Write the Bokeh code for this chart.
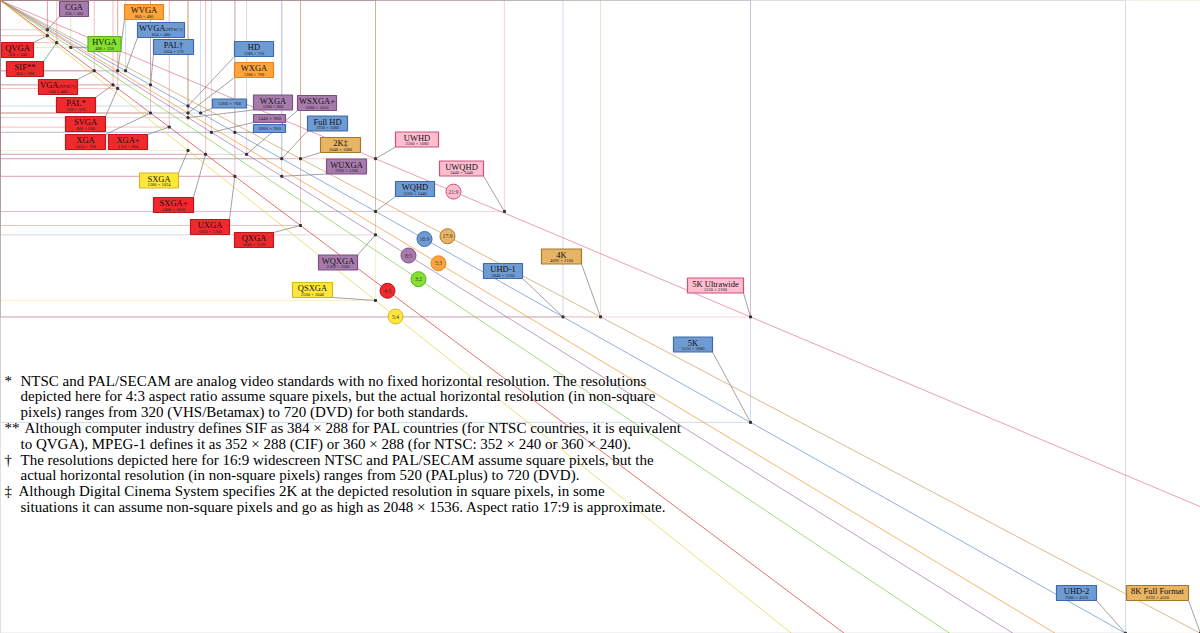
from bokeh.plotting import figure
from bokeh.models import Range1d
from bokeh.core.properties import value
from bokeh.embed import file_html
from bokeh.resources import INLINE

# ---------------- data ----------------
std_names = ["CGA", "QVGA", "SIF**", "HVGA", "WVGA", "WVGA", "VGA", "PAL*", "PAL\u2020",
             "SVGA", "XGA", "XGA+", "HD", "WXGA", "WXGA", "", "", "",
             "SXGA", "SXGA+", "WSXGA+", "UXGA", "Full HD", "2K\u2021", "WUXGA", "QXGA",
             "UWHD", "WQHD", "WQXGA", "QSXGA", "UWQHD", "UHD-1", "4K", "5K Ultrawide",
             "5K", "UHD-2", "8K Full Format"]
std_subs = ["", "", "", "", "", "(NTSC\u2020)", "(NTSC*)", "", "",
            "", "", "", "", "", "", "", "", "",
            "", "", "", "", "", "", "", "",
            "", "", "", "", "", "", "", "",
            "", "", ""]
std_w = [320, 320, 384, 480, 800, 854, 640, 768, 1024,
         800, 1024, 1152, 1280, 1280, 1280, 1366, 1440, 1600,
         1280, 1400, 1680, 1600, 1920, 2048, 1920, 2048,
         2560, 2560, 2560, 2560, 3440, 3840, 4096, 5120,
         5120, 7680, 8192]
std_h = [200, 240, 288, 320, 480, 480, 480, 576, 576,
         600, 768, 864, 720, 768, 800, 768, 900, 900,
         1024, 1050, 1050, 1200, 1080, 1080, 1200, 1536,
         1080, 1440, 1600, 2048, 1440, 2160, 2160, 2160,
         2880, 4320, 4320]
std_cat = ["purple", "red", "red", "green", "orange", "blue", "red", "red", "blue",
           "red", "red", "red", "blue", "orange", "purple", "blue", "purple", "blue",
           "yellow", "red", "purple", "red", "blue", "tan", "purple", "red",
           "pink", "blue", "purple", "yellow", "pink", "blue", "tan", "pink",
           "blue", "blue", "tan"]

ratio_labels = ["21:9", "17:9", "16:9", "5:3", "8:5", "3:2", "4:3", "5:4"]
ratio_w = [64, 256, 16, 5, 8, 3, 4, 5]
ratio_h = [27, 135, 9, 3, 5, 2, 3, 4]
ratio_cat = ["pink", "tan", "blue", "orange", "purple", "green", "red", "yellow"]

note_marks = ["*", "", "", "**", "", "\u2020", "", "\u2021", ""]
note_lines = [
    "NTSC and PAL/SECAM are analog video standards with no fixed horizontal resolution. The resolutions",
    "depicted here for 4:3 aspect ratio assume square pixels, but the actual horizontal resolution (in non-square",
    "pixels) ranges from 320 (VHS/Betamax) to 720 (DVD) for both standards.",
    "Although computer industry defines SIF as 384 \u00d7 288 for PAL countries (for NTSC countries, it is equivalent",
    "to QVGA), MPEG-1 defines it as 352 \u00d7 288 (CIF) or 360 \u00d7 288 (for NTSC: 352 \u00d7 240 or 360 \u00d7 240).",
    "The resolutions depicted here for 16:9 widescreen NTSC and PAL/SECAM assume square pixels, but the",
    "actual horizontal resolution (in non-square pixels) ranges from 520 (PALplus) to 720 (DVD).",
    "Although Digital Cinema System specifies 2K at the depicted resolution in square pixels, in some",
    "situations it can assume non-square pixels and go as high as 2048 \u00d7 1536. Aspect ratio 17:9 is approximate.",
]

# ---------------- styles / layout ----------------
FILL = {"red": "#ee2a2e", "purple": "#a77cac", "blue": "#6f9bd3", "orange": "#fba53c",
        "green": "#86e030", "yellow": "#fde73e", "tan": "#e8b466", "pink": "#ffbdd0"}
EDGE = {"red": "#c0161c", "purple": "#7a4f84", "blue": "#3d6aaa", "orange": "#e8821c",
        "green": "#5cb020", "yellow": "#d8b820", "tan": "#a8782a", "pink": "#d0507a"}
LINE = {"red": "#d83030", "purple": "#9c72a8", "blue": "#5b87c5", "orange": "#f0902a",
        "green": "#80c840", "yellow": "#e8d040", "tan": "#c89a5a", "pink": "#e0708f"}

# label box layout in screen pixels: (cx, cy, box w, box h)
LAYOUT = [(73.5, 8.5, 29, 15), (17, 49.5, 32, 15), (24.5, 68.5, 37, 15), (104, 43.5, 33, 15),
          (143.5, 11.5, 39, 15), (160.5, 29.5, 47, 15), (57.5, 86.5, 39, 15), (75.5, 104.5, 39, 15),
          (173, 46.5, 40, 15), (85, 123.5, 40, 15), (85, 141.5, 40, 15), (127.5, 141.5, 39, 15),
          (253.5, 48.5, 39, 15), (253.5, 69.5, 39, 15), (272.5, 102, 39, 15), (229, 103, 34, 9),
          (269, 118, 32, 8), (269, 128, 32, 8), (158.5, 180, 39, 15), (173, 204.5, 40, 15),
          (316.5, 102.5, 39, 15), (209.5, 226.5, 39, 15), (327, 123, 40, 15), (340, 144.5, 40, 15),
          (346, 166, 40, 15), (253.5, 239.5, 39, 15), (416.5, 139, 43, 15), (414.5, 188.5, 39, 15),
          (337.5, 262, 39, 15), (312, 289.5, 40, 15), (461, 168, 44, 15), (502.5, 270.5, 39, 15),
          (561, 256, 40, 15), (715, 285, 56, 15), (692.5, 344, 39, 15), (1076, 592.5, 40, 15),
          (1157, 592.5, 62, 15)]
SUB_DX = {5: 4.5, 6: 0.5}
RATIO_X_PX = [453, 447, 424, 438, 408, 418, 387, 395]

W_PX, H_PX = 1200, 633
S = W_PX / 8192.0
FONT = value("Liberation Serif")


def d(px):
    return px / S


p = figure(width=W_PX, height=H_PX, output_backend="svg", toolbar_location=None,
           x_axis_type=None, y_axis_type=None, min_border=0,
           x_range=Range1d(0, 8192), y_range=Range1d(d(H_PX), 0))
p.grid.visible = False
p.outline_line_color = None
p.background_fill_color = "white"

# resolution rectangles
for w, h, c in zip(std_w, std_h, std_cat):
    p.quad(left=0, right=w, top=0, bottom=h, fill_alpha=0, line_color=LINE[c],
           line_alpha=0.3, line_width=1)

# aspect-ratio lines
for rw, rh, c in zip(ratio_w, ratio_h, ratio_cat):
    X = 16384
    p.segment(x0=0, y0=0, x1=X, y1=X * rh / rw, line_color=LINE[c], line_width=0.8,
              line_alpha=0.85)

# leader lines
lx0, ly0, lx1, ly1 = [], [], [], []
for w, h, (cx, cy, bw, bh) in zip(std_w, std_h, LAYOUT):
    px, py = w * S, h * S
    nx = min(max(px, cx - bw / 2), cx + bw / 2)
    ny = min(max(py, cy - bh / 2), cy + bh / 2)
    lx0.append(w); ly0.append(h); lx1.append(d(nx)); ly1.append(d(ny))
p.segment(x0=lx0, y0=ly0, x1=lx1, y1=ly1, line_color="#8a8a8a", line_width=0.8)
p.scatter(x=std_w, y=std_h, size=2, marker="square", color="#333333")

# label boxes
p.rect(x=[d(l[0]) for l in LAYOUT], y=[d(l[1]) for l in LAYOUT],
       width=[l[2] for l in LAYOUT], height=[l[3] for l in LAYOUT],
       width_units="screen", height_units="screen",
       fill_color=[FILL[c] for c in std_cat], line_color=[EDGE[c] for c in std_cat],
       line_width=1.2)

for i, (name, sub, w, h, (cx, cy, bw, bh)) in enumerate(zip(std_names, std_subs, std_w, std_h, LAYOUT)):
    res = "%d \u00d7 %d" % (w, h)
    if name == "":
        p.text(x=[d(cx)], y=[d(cy)], text=[res], text_font=FONT, text_font_size="5px",
               text_align="center", text_baseline="middle", text_color="#222222")
        continue
    if sub:
        dx = SUB_DX.get(i, 0)
        p.text(x=[d(cx + dx)], y=[d(cy - 2)], text=[name], text_font=FONT, text_font_size="8.5px",
               text_align="right", text_baseline="middle", text_color="#111111")
        p.text(x=[d(cx + dx)], y=[d(cy - 1)], text=[sub], text_font=FONT, text_font_size="4.6px",
               text_align="left", text_baseline="middle", text_color="#111111")
    else:
        p.text(x=[d(cx)], y=[d(cy - 2)], text=[name], text_font=FONT, text_font_size="8.5px",
               text_align="center", text_baseline="middle", text_color="#111111")
    p.text(x=[d(cx)], y=[d(cy + 4)], text=[res], text_font=FONT, text_font_size="4.5px",
           text_align="center", text_baseline="middle", text_color="#222222")

# aspect-ratio circles
rx = [d(x) for x in RATIO_X_PX]
ry = [d(x) * rh / rw for x, rw, rh in zip(RATIO_X_PX, ratio_w, ratio_h)]
p.scatter(x=rx, y=ry, size=15, marker="circle", fill_color=[FILL[c] for c in ratio_cat],
          line_color=[EDGE[c] for c in ratio_cat], line_width=1)
p.text(x=rx, y=ry, text=ratio_labels, text_font=FONT, text_font_size="5.5px",
       text_align="center", text_baseline="middle", text_color="#333333")

# footnotes
y0, dy = 380, 15.8
for k, (m, t) in enumerate(zip(note_marks, note_lines)):
    yy = d(y0 + k * dy)
    if m:
        p.text(x=[d(4)], y=[yy], text=[m], text_font=FONT, text_font_size="15px",
               text_align="left", text_baseline="middle", text_color="#000000")
    tx = 20
    if m == "**":
        tx = 24
    elif m == "\u2021":
        tx = 18
    p.text(x=[d(tx)], y=[yy], text=[t], text_font=FONT, text_font_size="15px",
           text_align="left", text_baseline="middle", text_color="#000000")

open("out.html", "w").write(file_html(p, INLINE))
